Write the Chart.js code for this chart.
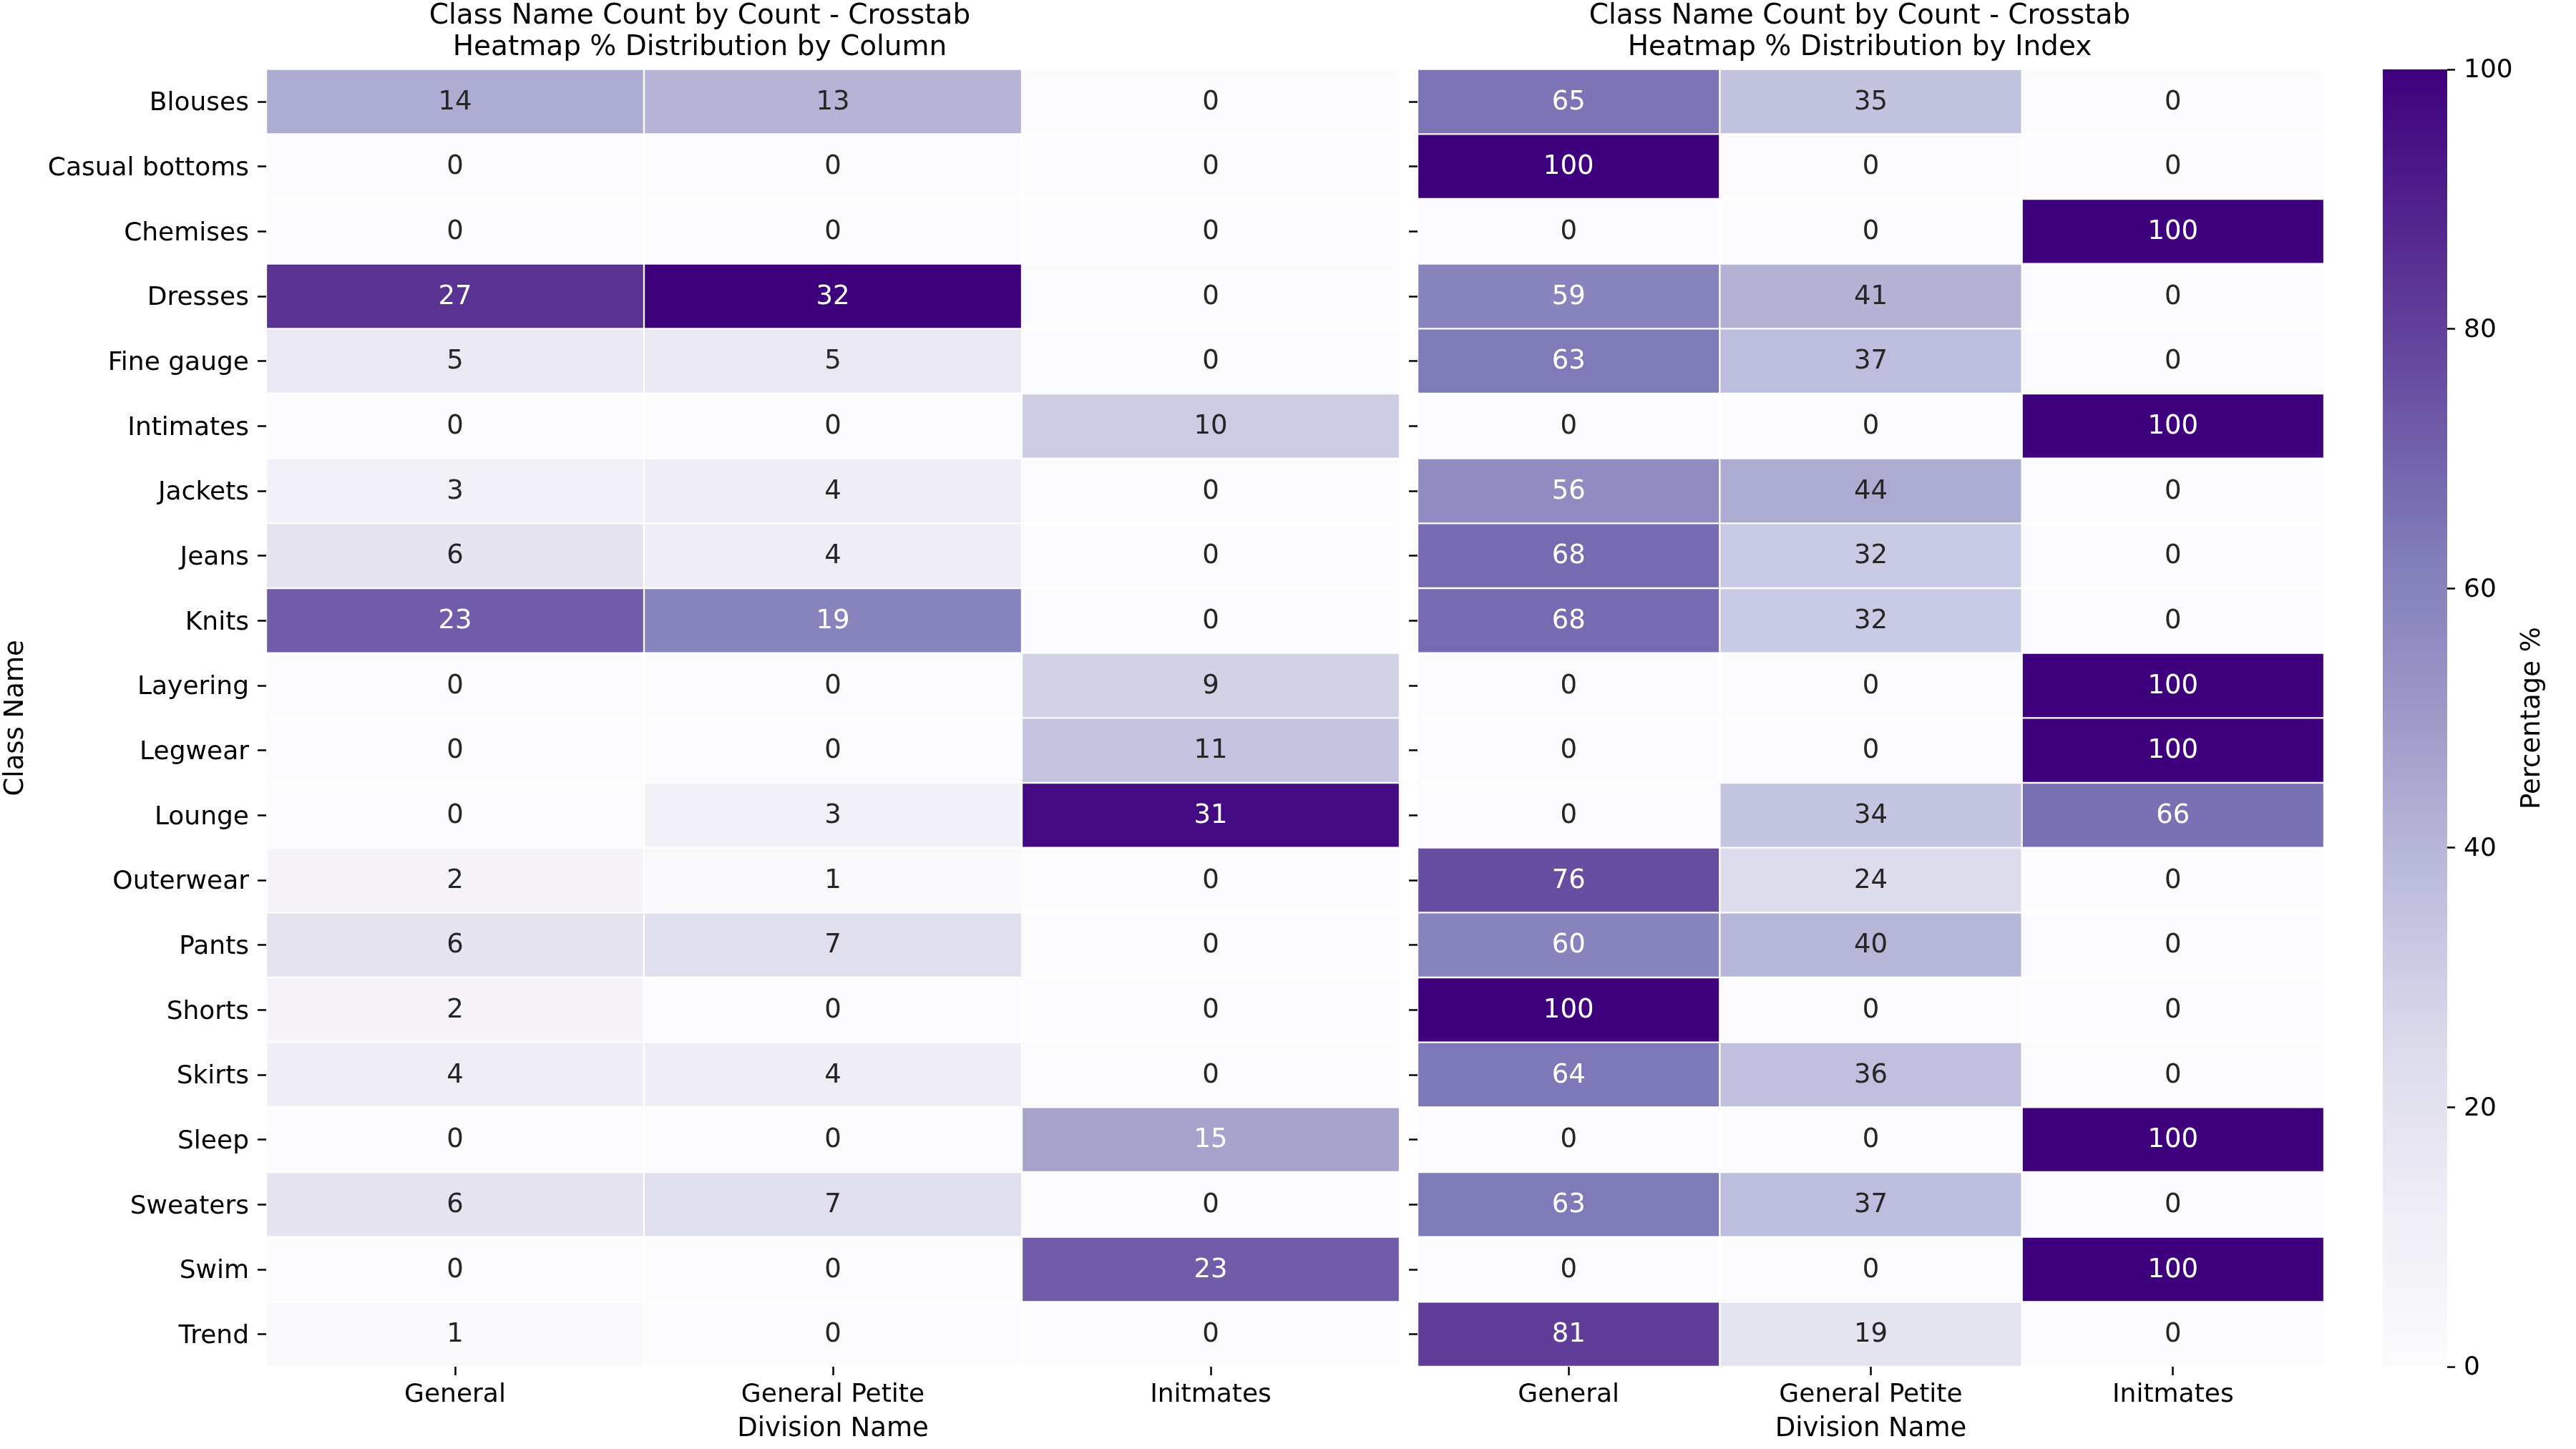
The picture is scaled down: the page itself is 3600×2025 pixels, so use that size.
<!DOCTYPE html>
<html>
<head>
<meta charset="utf-8">
<script src="https://cdn.jsdelivr.net/npm/chart.js@4.4.0/dist/chart.umd.min.js"></script>
<style>
html,body{margin:0;padding:0;background:#ffffff;width:3600px;height:2025px;overflow:hidden;}
canvas{position:absolute;top:0;}
#cA{left:0px;}
#cB{left:1950px;}
#cC{left:3330px;}
</style>
</head>
<body>
<canvas id="cA" width="2328" height="2025" style="width:2328px;height:2025px"></canvas>
<canvas id="cB" width="1329" height="2025" style="width:1329px;height:2025px"></canvas>
<canvas id="cC" width="270" height="2025" style="width:270px;height:2025px"></canvas>
<script>
// ---------------- DATA ----------------
const classNames = ['Blouses','Casual bottoms','Chemises','Dresses','Fine gauge','Intimates','Jackets','Jeans','Knits','Layering','Legwear','Lounge','Outerwear','Pants','Shorts','Skirts','Sleep','Sweaters','Swim','Trend'];
const divisionNames = ['General','General Petite','Initmates'];

// % distribution by column (left heatmap)
const colGeneral   = [14,0,0,27,5,0,3,6,23,0,0,0,2,6,2,4,0,6,0,1];
const colPetite    = [13,0,0,32,5,0,4,4,19,0,0,3,1,7,0,4,0,7,0,0];
const colIntimates = [0,0,0,0,0,10,0,0,0,9,11,31,0,0,0,0,15,0,23,0];

// % distribution by index (right heatmap)
const idxGeneral   = [65,100,0,59,63,0,56,68,68,0,0,0,76,60,100,64,0,63,0,81];
const idxPetite    = [35,0,0,41,37,0,44,32,32,0,0,34,24,40,0,36,0,37,0,19];
const idxIntimates = [0,0,100,0,0,100,0,0,0,100,100,66,0,0,0,0,100,0,100,0];

const colorbarTicks = [0,20,40,60,80,100];
const titleLeft  = ['Class Name Count by Count - Crosstab','Heatmap % Distribution by Column'];
const titleRight = ['Class Name Count by Count - Crosstab','Heatmap % Distribution by Index'];
const yAxisTitle = 'Class Name';
const xAxisTitle = 'Division Name';
const cbarTitle  = 'Percentage %';

// ---------------- STYLE ----------------
const FONT = 'DejaVu Sans';
const PURPLES = [[252,251,253],[239,237,245],[218,218,235],[188,189,220],[158,154,200],[128,125,186],[106,81,163],[84,39,143],[63,0,125]];
function purples(t){
  t = Math.max(0, Math.min(1, t));
  const x = t * 8; const i = Math.min(7, Math.floor(x)); const f = x - i;
  const a = PURPLES[i], b = PURPLES[i+1];
  return [0,1,2].map(k => a[k] + (b[k]-a[k]) * f);
}
function rgb(c){ return 'rgb(' + c.map(v => Math.round(v)).join(',') + ')'; }
function lum(c){
  const l = c.map(v => { v = v/255; return v <= 0.03928 ? v/12.92 : Math.pow((v+0.055)/1.055, 2.4); });
  return 0.2126*l[0] + 0.7152*l[1] + 0.0722*l[2];
}

const annotPlugin = {
  id: 'annot',
  afterDatasetsDraw(chart){
    const ctx = chart.ctx;
    ctx.save();
    ctx.font = '37px "' + FONT + '"';
    ctx.textAlign = 'center';
    ctx.textBaseline = 'middle';
    chart.data.datasets.forEach((ds, di) => {
      const meta = chart.getDatasetMeta(di);
      meta.data.forEach((el, i) => {
        const p = el.getCenterPoint();
        ctx.fillStyle = lum(ds.cellRgb[i]) > 0.408 ? '#262626' : '#ffffff';
        ctx.fillText(String(Math.round(ds.values[i])), p.x, p.y + 1);
      });
    });
    ctx.restore();
  }
};

function heatmap(id, cols, vmax, title, showY, yWidth, padRight){
  const datasets = cols.map((vals, c) => {
    const cellRgb = vals.map(v => purples(v / vmax));
    return {
      data: vals.map(() => [c, c + 1]),
      values: vals,
      cellRgb: cellRgb,
      backgroundColor: cellRgb.map(rgb),
      borderColor: '#ffffff',
      borderWidth: 1.5,
      borderSkipped: false,
      barPercentage: 1,
      categoryPercentage: 1,
      grouped: false
    };
  });
  return new Chart(document.getElementById(id), {
    type: 'bar',
    data: { labels: classNames, datasets: datasets },
    options: {
      indexAxis: 'y',
      responsive: false,
      devicePixelRatio: 1,
      animation: false,
      layout: { padding: { left: 0, right: padRight, top: 0, bottom: 0 } },
      plugins: {
        legend: { display: false },
        tooltip: { enabled: false },
        title: {
          display: true, text: title, color: '#000000',
          font: { family: FONT, size: 39, weight: 'normal', lineHeight: 1.15 },
          padding: { top: 0, bottom: 7 }
        }
      },
      scales: {
        y: {
          type: 'category',
          offset: true,
          grid: { display: true, drawOnChartArea: false, drawTicks: true, tickLength: 12, tickWidth: 2.5, tickColor: '#000000', offset: false },
          border: { display: false },
          ticks: {
            autoSkip: false, color: '#000000', padding: 12, labelOffset: 3,
            font: { family: FONT, size: 36 },
            callback: (v, i) => showY ? classNames[i] : ''
          },
          title: { display: showY, text: yAxisTitle, color: '#000000', font: { family: FONT, size: 37 }, padding: { top: 0, bottom: 0 } },
          afterFit: s => { s.width = yWidth; }
        },
        x: {
          type: 'linear', min: 0, max: divisionNames.length,
          afterBuildTicks: s => { s.ticks = divisionNames.map((n, i) => ({ value: i + 0.5 })); },
          grid: { display: true, drawOnChartArea: false, drawTicks: true, tickLength: 12, tickWidth: 2.5, tickColor: '#000000' },
          border: { display: false },
          ticks: {
            autoSkip: false, maxRotation: 0, color: '#000000', padding: 6,
            font: { family: FONT, size: 36 },
            callback: v => divisionNames[Math.floor(v)]
          },
          title: { display: true, text: xAxisTitle, color: '#000000', font: { family: FONT, size: 37 }, padding: { top: 0, bottom: 5 } },
          afterFit: s => { s.height = 115; }
        }
      }
    },
    plugins: [annotPlugin]
  });
}

const maxLeft = Math.max(...colGeneral, ...colPetite, ...colIntimates);
const maxRight = colorbarTicks[colorbarTicks.length - 1];

heatmap('cA', [colGeneral, colPetite, colIntimates], maxLeft, titleLeft, true, 372, 372);
heatmap('cB', [idxGeneral, idxPetite, idxIntimates], maxRight, titleRight, false, 31, 31);

// ---------------- COLORBAR ----------------
const cbLabelPlugin = {
  id: 'cbLabel',
  afterDraw(chart){
    const ca = chart.chartArea; const ctx = chart.ctx;
    ctx.save();
    ctx.translate(209, (ca.top + ca.bottom) / 2);
    ctx.rotate(-Math.PI / 2);
    ctx.font = '37px "' + FONT + '"';
    ctx.fillStyle = '#000000';
    ctx.textAlign = 'center';
    ctx.textBaseline = 'middle';
    ctx.fillText(cbarTitle, 0, 0);
    ctx.restore();
  }
};

new Chart(document.getElementById('cC'), {
  type: 'bar',
  data: {
    labels: [''],
    datasets: [{
      data: [[colorbarTicks[0], maxRight]],
      backgroundColor: c => {
        const ca = c.chart.chartArea;
        if (!ca) return rgb(PURPLES[4]);
        const g = c.chart.ctx.createLinearGradient(0, ca.bottom, 0, ca.top);
        PURPLES.forEach((col, i) => g.addColorStop(i / 8, rgb(col)));
        return g;
      },
      borderWidth: 0,
      barPercentage: 1,
      categoryPercentage: 1
    }]
  },
  options: {
    responsive: false,
    devicePixelRatio: 1,
    animation: false,
    layout: { padding: { top: 97, bottom: 115, left: 0, right: 0 } },
    plugins: { legend: { display: false }, tooltip: { enabled: false }, title: { display: false } },
    scales: {
      x: { display: false },
      y: {
        position: 'right', min: 0, max: maxRight,
        afterBuildTicks: s => { s.ticks = colorbarTicks.map(v => ({ value: v })); },
        grid: { display: true, drawOnChartArea: false, drawTicks: true, tickLength: 11, tickWidth: 2.5, tickColor: '#000000' },
        border: { display: false },
        ticks: { color: '#000000', padding: 12, labelOffset: 2, font: { family: FONT, size: 36 } },
        afterFit: s => { s.width = 180; }
      }
    }
  },
  plugins: [cbLabelPlugin]
});
</script>
</body>
</html>
